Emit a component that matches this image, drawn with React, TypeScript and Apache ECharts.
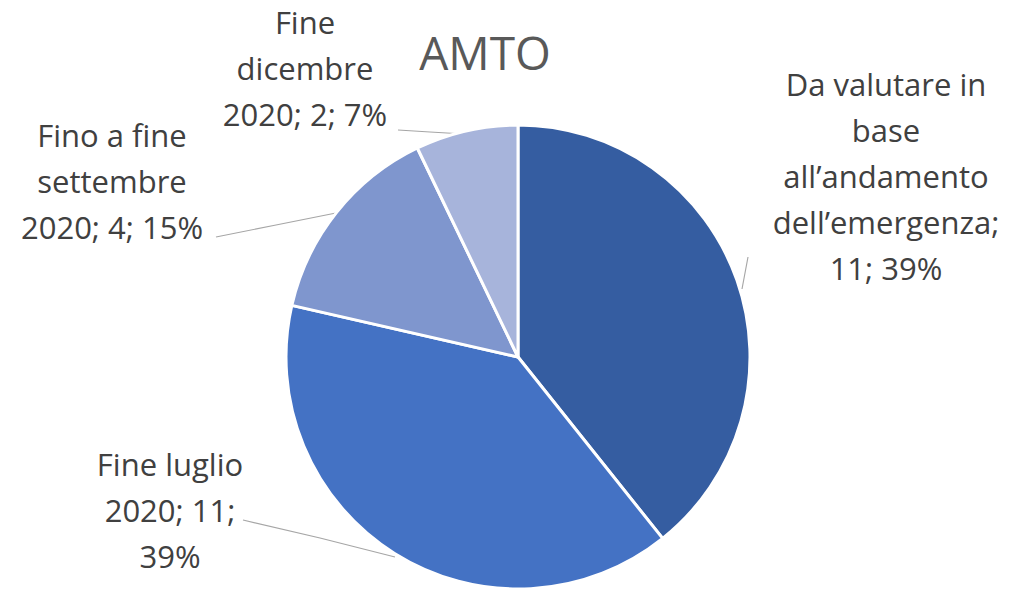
import React, { useEffect, useRef } from "react";
import * as echarts from "echarts";

const title = "AMTO";
const categories = [
  "Da valutare in base all’andamento dell’emergenza",
  "Fine luglio 2020",
  "Fino a fine settembre 2020",
  "Fine dicembre 2020",
];
const values = [11, 11, 4, 2];
const percents = ["39%", "39%", "15%", "7%"];
const labelTexts = [
  "Da valutare in\nbase\nall’andamento\ndell’emergenza;\n11; 39%",
  "Fine luglio\n2020; 11;\n39%",
  "Fino a fine\nsettembre\n2020; 4; 15%",
  "Fine\ndicembre\n2020; 2; 7%",
];
const colors = ["#355DA1", "#4472C4", "#7F96CE", "#A7B4DB"];

// label placement (x, y centre) and leader line points
const labelPos: [number, number][] = [
  [886, 176],
  [170, 510],
  [112, 181],
  [305, 68],
];
const leaderLines: [number, number][][] = [
  [[742, 289], [745, 273], [748, 257]],
  [[395, 557], [320, 538], [243, 520]],
  [[336, 213], [276, 225], [216, 237]],
  [[464, 134], [430, 132], [398, 130]],
];

export default function App() {
  const ref = useRef<HTMLDivElement>(null);
  useEffect(() => {
    document.body.style.margin = "0";
    const chart = echarts.init(ref.current!, undefined, { renderer: "svg" });
    chart.setOption({
      animation: false,
      backgroundColor: "#ffffff",
      title: {
        text: title,
        left: 480,
        top: 47,
        textAlign: "center",
        textVerticalAlign: "middle",
        textStyle: {
          fontFamily: "Open Sans",
          fontSize: 46,
          fontWeight: "normal",
          color: "#595959",
        },
      },
      series: [
        {
          type: "pie",
          center: [518, 357],
          radius: [0, 232],
          startAngle: 90,
          clockwise: true,
          color: colors,
          itemStyle: { borderColor: "#ffffff", borderWidth: 3 },
          label: {
            show: true,
            formatter: (p: any) => labelTexts[p.dataIndex],
            fontFamily: "Open Sans",
            fontSize: 31,
            lineHeight: 46,
            color: "#404040",
            align: "center",
            overflow: "none",
          },
          labelLine: {
            show: true,
            lineStyle: { color: "#A6A6A6", width: 1.2 },
          },
          labelLayout: (params: any) => {
            const i = params.dataIndex;
            return {
              x: labelPos[i][0],
              y: labelPos[i][1],
              align: "center",
              verticalAlign: "middle",
              labelLinePoints: leaderLines[i],
            };
          },
          data: categories.map((c, i) => ({
            name: c,
            value: values[i],
            percent: percents[i],
          })),
        },
      ],
    });
    return () => chart.dispose();
  }, []);
  return <div ref={ref} style={{ width: 1016, height: 592 }} />;
}
